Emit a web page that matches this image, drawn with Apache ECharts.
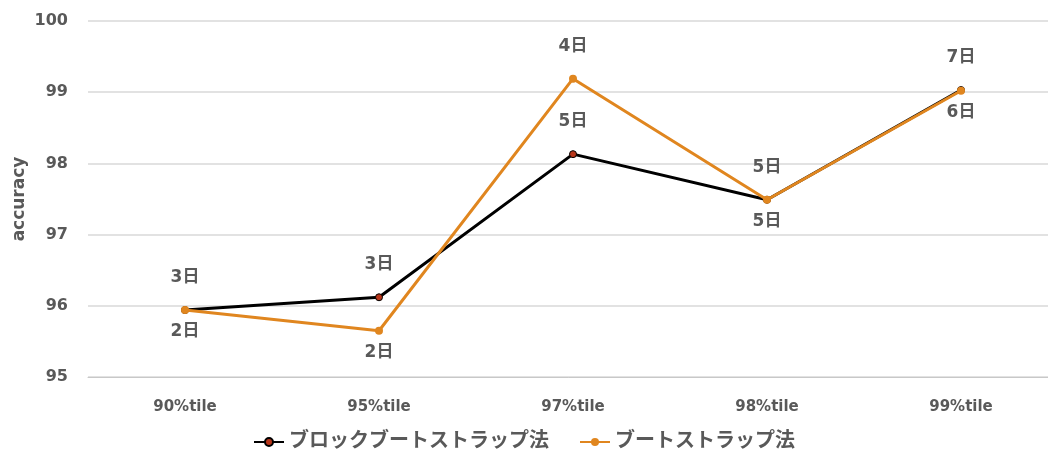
<!DOCTYPE html>
<html>
<head>
<meta charset="utf-8">
<script src="https://cdn.jsdelivr.net/npm/echarts@6/dist/echarts.min.js"></script>
<style>
  html, body { margin: 0; padding: 0; background: #fff; }
  #chart { width: 1048px; height: 451px; }
</style>
</head>
<body>
<div id="chart"></div>
<script>
// Percentile thresholds on the x axis
const categories = ['90%tile', '95%tile', '97%tile', '98%tile', '99%tile'];

// Accuracy for each method
const blockBootstrap = [95.94, 96.12, 98.13, 97.49, 99.03];
const bootstrap = [95.94, 95.65, 99.19, 97.49, 99.02];

// Number of days reported next to each point
const blockDays = ['3日', '3日', '5日', '5日', '7日'];
const bootDays = ['2日', '2日', '4日', '5日', '6日'];

const seriesNames = ['ブロックブートストラップ法', 'ブートストラップ法'];
const yTicks = { min: 95, max: 100, interval: 1 };

const FONT = '"DejaVu Sans", "Noto Sans CJK JP", sans-serif';
const TEXT = '#595959';
const ORANGE = '#E0861F';

// Orange labels sit below their points except where the line peaks
const bootAbove = new Set([2]);

function labelled(values, days, isAbove) {
  return values.map((v, i) => {
    const above = isAbove(i);
    return {
      value: v,
      label: {
        show: true,
        formatter: days[i],
        position: above ? 'top' : 'bottom',
        distance: above ? 20 : 9
      }
    };
  });
}

const chart = echarts.init(document.getElementById('chart'), null, { renderer: 'canvas' });

chart.setOption({
  animation: false,
  textStyle: { fontFamily: FONT },
  grid: { left: 88, width: 970, top: 21, bottom: 74, outerBoundsMode: 'none', containLabel: false },
  legend: {
    bottom: -6,
    left: 'center',
    itemWidth: 30,
    itemHeight: 10,
    itemGap: 30,
    textStyle: { color: TEXT, fontSize: 20, fontWeight: 'bold', fontFamily: FONT },
    data: seriesNames
  },
  xAxis: {
    type: 'category',
    data: categories,
    boundaryGap: true,
    axisLine: { show: true, lineStyle: { color: '#c8c8c8', width: 1 } },
    axisTick: { show: false },
    axisLabel: { color: TEXT, fontSize: 15, fontWeight: 'bold', margin: 23, fontFamily: FONT },
    splitLine: { show: false }
  },
  yAxis: {
    type: 'value',
    min: yTicks.min,
    max: yTicks.max,
    interval: yTicks.interval,
    name: 'accuracy',
    nameLocation: 'middle',
    nameGap: 60,
    nameMoveOverlap: false,
    nameTextStyle: { color: TEXT, fontSize: 17, fontWeight: 'bold', fontFamily: FONT },
    axisLine: { show: false },
    axisTick: { show: false },
    axisLabel: { color: TEXT, fontSize: 16, fontWeight: 'bold', margin: 20, fontFamily: FONT },
    splitLine: { lineStyle: { color: '#d9d9d9', width: 1.5 } }
  },
  series: [
    {
      name: seriesNames[0],
      type: 'line',
      data: labelled(blockBootstrap, blockDays, () => true),
      symbol: 'circle',
      symbolSize: 7,
      lineStyle: { color: '#000000', width: 3 },
      itemStyle: { color: '#B8361A', borderColor: '#000000', borderWidth: 1 },
      label: { color: TEXT, fontSize: 17, fontWeight: 'bold', fontFamily: FONT },
      z: 2
    },
    {
      name: seriesNames[1],
      type: 'line',
      data: labelled(bootstrap, bootDays, i => bootAbove.has(i)),
      symbol: 'circle',
      symbolSize: 8,
      lineStyle: { color: ORANGE, width: 3 },
      itemStyle: { color: ORANGE, borderColor: ORANGE, borderWidth: 0 },
      label: { color: TEXT, fontSize: 17, fontWeight: 'bold', fontFamily: FONT },
      z: 3
    }
  ]
});
</script>
</body>
</html>
